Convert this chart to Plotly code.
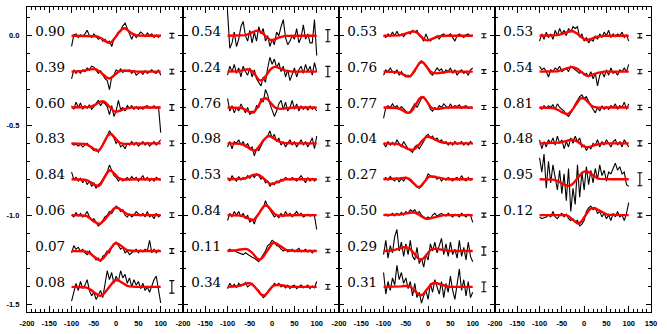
import plotly.graph_objects as go

# ---------------- data (profile values in hundredths of the y unit) ----------------
X = list(range(-100, 101, 5))
OFFSETS = [0.0, -0.2, -0.4, -0.6, -0.8, -1.0, -1.2, -1.4]
UNIT = 0.01
ERR_X = 125
LABEL_X = -148

LABELS_P1 = ["0.90", "0.39", "0.60", "0.83", "0.84", "0.06", "0.07", "0.08"]
LABELS_P2 = ["0.54", "0.24", "0.76", "0.98", "0.53", "0.84", "0.11", "0.34"]
LABELS_P3 = ["0.53", "0.76", "0.77", "0.04", "0.27", "0.50", "0.29", "0.31"]
LABELS_P4 = ["0.53", "0.54", "0.81", "0.48", "0.95", "0.12"]

ERR_P1 = [1.3, 1.3, 1.6, 1.3, 1.5, 1.3, 1.3, 3.5]
ERR_P2 = [3.4, 2.9, 1.7, 1.5, 1.1, 1.2, 1.0, 1.3]
ERR_P3 = [1.1, 1.1, 1.1, 1.2, 1.1, 1.1, 2.3, 2.7]
ERR_P4 = [1.2, 1.2, 1.2, 1.4, 3.6, 1.1]

OBS_P1 = [
    [-6,0.5,1,-1,0.5,-0.5,1,3,0,-1,1,-0.5,-2,-1,-3,-2,-4,-3,-6,-2,0,2,3,5.5,7,4,1,-2,1,-1,0.5,2,1,-0.5,1.5,0,1,-1,0.5,-1,0.5],
    [-4,1,-1,0.5,-1,1,0,2,1,3,2.5,1,-1,0.5,-2,-4,-5,-10,-3,-2,1,0,1.5,-0.5,0.5,0,1,-1,0.5,-2,-1,0,-1.5,0.5,-1,0,1,-0.5,-1,1,-2],
    [1,-1,3,0,2.5,-1,1,-0.5,1.5,-1,0.5,2,4,1,3,2,0.5,-4,1,-5,-2,4,-1,0,-2,1,-0.5,1,-1,0.5,-1,0,-1,0.5,1,-0.5,0,1,-0.5,0.5,-14],
    [0,-1,-0.5,-1.5,-0.5,-2,-1,0,-1.5,-2.5,-4,-3,-5,-3,-1,1,4,7,5,3,0,1.5,-2,-1,-3,0,-1,1,-1,0.5,-1.5,0,1,-1,0.5,-1.5,0,1,-1,0.5,2],
    [4,0,1,-1,0.5,-2,0,-3,-1,-4,-2,-5,-3,-2,0,2,4,8,5,2,1,-1,0.5,-1,0,1,-0.5,1.5,0,1,-1,0.5,2,-0.5,1,-1,0.5,-1,1,0,-0.5],
    [0,-1,1.5,-0.5,1,-1,0,2,-1,-3,-2,-4,-6,-5,-3,-1,0,2,1,3,5,4,2,3,0,-1,0.5,-1,0,2,1,-0.5,1,-1,2,-1,0,-2,1,-1,0],
    [-1,3,1,2,0,1,-1,-2,0,-2,-3,-5,-4,-6,-3,-2,0,-1,2,4,5,3,1,2,-1,0,-2,-1,0,1,-1,0.5,-0.5,1,0,6,-1,1,-1,0.5,-0.5],
    [-8,-3,2,-2,3,-1,1,4,-2,-5,-3,-7,-4,-2,-6,3,9,4,8,2,6,3,9,5,7,2,5,0,4,1,3,-1,2,-2,0,-3,1,4,6,-2,-9],
]
FIT_P1 = [
    [0,0,0,0,0,0,0,0,0,0,-0.1,-0.3,-0.6,-1.2,-2.0,-3.0,-3.7,-4.0,-3.5,-2.2,-0.4,1.5,3.0,4.0,4.1,3.4,2.3,1.3,0.6,0.2,0.1,0,0,0,0,0,0,0,0,0,0],
    [0,0,0,0.1,0.2,0.4,0.7,1.0,1.3,1.5,1.5,1.2,0.6,-0.3,-1.4,-2.6,-3.5,-3.8,-3.3,-2.2,-1.0,-0.1,0.4,0.6,0.6,0.5,0.3,0.2,0.1,0,0,0,0,0,0,0,0,0,0,0,0],
    [0,0,0,0,0,0,0,0.1,0.3,0.6,1.1,1.8,2.6,3.3,3.5,3.0,1.8,0.3,-1.1,-2.1,-2.4,-2.2,-1.7,-1.1,-0.7,-0.4,-0.2,-0.1,0,0,0,0,0,0,0,0,0,0,0,0,0],
    [0,0,0,0,0,-0.1,-0.3,-0.7,-1.3,-2.2,-3.2,-4.0,-4.1,-3.0,-0.8,1.8,4.0,5.2,5.0,3.8,2.2,0.9,0.1,-0.3,-0.4,-0.3,-0.2,-0.1,0,0,0,0,0,0,0,0,0,0,0,0,0],
    [0,0,0,0,0,-0.1,-0.3,-0.6,-1.2,-2.0,-3.0,-3.6,-3.8,-2.9,-0.9,1.5,3.7,4.9,4.6,3.4,1.9,0.8,0.1,-0.2,-0.3,-0.2,-0.1,-0.1,0,0,0,0,0,0,0,0,0,0,0,0,0],
    [0,0,0,0,0,-0.1,-0.3,-0.7,-1.4,-2.4,-3.5,-4.4,-4.8,-4.7,-3.8,-2.4,-0.7,1.0,2.6,3.7,4.2,3.9,3.0,2.0,1.1,0.5,0.2,0.1,0,0,0,0,0,0,0,0,0,0,0,0,0],
    [0,0,0,0,0,-0.1,-0.2,-0.5,-1.1,-2.0,-3.1,-4.2,-4.9,-5.0,-4.3,-2.9,-1.1,0.8,2.5,3.8,4.3,4.0,3.1,2.0,1.1,0.5,0.2,0.1,0,0,0,0,0,0,0,0,0,0,0,0,0],
    [0,0,0,0,0,-0.1,-0.2,-0.5,-1.0,-1.9,-3.0,-4.0,-4.7,-4.9,-4.4,-3.1,-1.4,0.4,2.0,3.3,3.8,3.6,2.9,2.0,1.2,0.6,0.3,0.1,0,0,0,0,0,0,0,0,0,0,0,0,0],
]

OBS_P2 = [
    [13,-7,-4,2,-6,-2,5,8,0,-3,3,-4,2,-3,5,1,4,-3,0,-6,-2,-5,2,0,5,9,-1,-5,-3,0,-2,4,-4,-1,6,-2,1,-4,-4,9,-11],
    [-2,3,0,4,-1,2,-3,3,0,-2,2,-3,1,-4,-6,-8,-3,-6,2,8,4,7,2,5,0,3,-3,1,-5,-2,2,-3,1,3,-1,4,0,3,-2,5,0],
    [5,-2,1,-3,0,-2,2,-1,-3,0,-4,-2,-3,1,0,5,3,10,7,2,-1,-5,-2,2,4,-1,3,-2,0,4,-1,2,-2,1,-1,0.5,-1.5,1,-1,0,-2],
    [-2,1,-3,1,0,2,-1,1,-2,0,-3,-2,-7,-3,-4,-1,1,3,4,7,3,5,1,3,-1,1,-2,0,2,-1,1,-2,0,2,-1,1,-2,1,3,-3,4],
    [1,-1,2,0,-1,1.5,-0.5,1,0,2,0.5,2.5,1,3,2,0,1,-2,-1,-4,-2,-3,-1,-2,0,-1,1,0,-0.5,1,0,-1,0.5,2,0,-2,1,-1,0.5,-1,0],
    [-3,1,-1,2,0,2,-1,1,-2,0,-4,-2,-5,-1,1,3,4,8,5,3,1,-1,0,-1.5,1,-1,2,0,1,-1,0.5,2,0,1,-1,0,0.5,-0.5,0,-0.5,-8],
    [0,1,0,0.5,-0.5,-1,-1.5,-2,-1,-2,-3,-3.5,-4,-5,-6,-4,-2,0,3,4,6,5,3,2.5,1,0,1,-0.5,0,1,-0.5,0.5,1.5,-0.5,0,1,-0.5,0.5,-1,0.5,0],
    [-1,2,0,1.5,-0.5,2,0.5,1,2.5,0,1,2,0,-1,-2,-4,-6,-5,-3,-1,0,2,1,2,0,1,-0.5,1,-1,0.5,1,-1,0,1,-0.5,0,1,-1,0.5,-0.5,3],
]
FIT_P2 = [
    [0,0,0,0,0,0,0,0.1,0.3,0.7,1.3,2.0,2.5,2.8,2.7,2.1,1.1,-0.2,-1.4,-2.2,-2.5,-2.2,-1.6,-1.0,-0.6,-0.3,-0.1,-0.1,0,0,0,0,0,0,0,0,0,0,0,0,0],
    [0,0,0,0,0,0.2,0.5,0.9,1.2,1.3,1.0,0.2,-1.2,-3.0,-4.6,-5.0,-4.3,-2.8,-0.9,0.8,2.0,2.6,2.6,2.2,1.6,1.0,0.5,0.2,0.1,0,0,0,0,0,0,0,0,0,0,0,0],
    [0,0,0,0,0,-0.1,-0.3,-0.6,-1.1,-1.8,-2.6,-2.9,-2.4,-0.9,1.2,3.3,4.8,5.3,4.6,3.1,1.4,0.2,-0.5,-0.8,-0.8,-0.6,-0.4,-0.2,-0.1,0,0,0,0,0,0,0,0,0,0,0,0],
    [0,0,0,0,0,-0.1,-0.3,-0.7,-1.3,-2.1,-3.1,-3.8,-4.1,-3.6,-2.2,-0.3,1.6,3.1,4.0,4.1,3.5,2.6,1.7,1.0,0.5,0.2,0.1,0,0,0,0,0,0,0,0,0,0,0,0,0,0],
    [0,0,0,0,0,0,0.1,0.3,0.6,1.1,1.7,2.2,2.5,2.6,2.4,1.7,0.6,-0.7,-1.9,-2.6,-2.7,-2.2,-1.6,-1.0,-0.6,-0.3,-0.1,0,0,0,0,0,0,0,0,0,0,0,0,0,0],
    [0,0,0,0,0,-0.1,-0.3,-0.6,-1.1,-1.8,-2.5,-2.8,-2.5,-1.2,0.7,2.8,4.6,5.4,5.0,3.6,1.9,0.7,0.0,-0.3,-0.3,-0.2,-0.1,0,0,0,0,0,0,0,0,0,0,0,0,0,0],
    [0,0,0.1,0.2,0.4,0.7,1.0,1.2,1.2,0.9,0.2,-0.9,-2.4,-3.9,-4.7,-4.5,-3.2,-1.2,1.0,2.9,4.2,4.6,4.2,3.3,2.3,1.4,0.8,0.4,0.2,0.1,0,0,0,0,0,0,0,0,0,0,0],
    [0,0,0,0.1,0.3,0.6,1.0,1.5,1.9,2.1,2.0,1.4,0.3,-1.2,-2.9,-4.2,-4.8,-4.4,-3.0,-1.3,0.1,0.9,1.2,1.1,0.9,0.6,0.4,0.2,0.1,0,0,0,0,0,0,0,0,0,0,0,0],
]

OBS_P3 = [
    [0,-1,1,-0.5,2,0,2.5,0,1,-0.5,1,2,1,3,2,3,0,-1,-3,1,-2,-3,-1.5,-1,0,-2,0.5,1,-0.5,0,1,-1,-3,0,1,0,-1,0.5,1,-0.5,0.5],
    [-2,1,0,2,0,-1,1,-2,0,-2,-3,-2,-3,-1,0,3,5,6,5,3,1,-1,-2,0,2,0.5,1.5,-1,1,0,2,-1,1,-2,0,1,-1,0,-2,1,2],
    [-6,0,1,0,2,0,1,-1,0.5,-1,-2,-3,-2,0,2,0,3,5,6,4,2,-1,-2,0,-1,1,0,2,1,-0.5,2,0,1,0.5,1.5,-0.5,0.5,1,-0.5,0,-0.5],
    [0,-2,1,-1,0.5,-1,2,0,-2,1,-1,-3,-4,-5,-2,-1,-3,-1,1,4,5,3,4,2,3,1,2,0,1,-1,0.5,-1,1,-0.5,0,1,-1,0.5,-1,1,-0.5],
    [0,1,-0.5,1.5,0,-1,1,-1.5,0.5,-1,1,0,-1,-2,-3,-4,-5,-4,-2,0,3,2,1,1.5,0,1,-1,0.5,-0.5,1,0,-1,0.5,1,-0.5,2,0,-1,1,-0.5,0.5],
    [0,0.5,-0.5,0,1,-0.5,1,0,1.5,0,2,1,3,2,3,1,2,0,-1,-2,-1,-2,0,1,-0.5,0.5,1,0,-0.5,1,0,-1,0.5,0,-1,1,0,-1,0.5,0,-4],
    [-2,6,-4,3,-1,8,12,0,5,-3,4,-2,6,-3,-5,2,-7,-4,-9,-2,-5,4,0,5,-1,3,7,-2,4,-3,5,-2,1,-4,6,-3,2,-5,5,-3,-6],
    [8,-4,3,-2,5,1,12,4,8,2,5,-1,3,-5,2,-6,-3,-9,-5,-2,-7,2,-3,4,0,-4,3,-6,2,-3,6,-2,-7,3,10,-2,4,-5,3,-6,-3],
]
FIT_P3 = [
    [0,0,0,0,0,0,0.1,0.2,0.5,0.9,1.4,1.9,2.2,2.4,2.3,1.7,0.6,-0.7,-1.8,-2.5,-2.6,-2.2,-1.6,-1.0,-0.6,-0.3,-0.1,0,0,0,0,0,0,0,0,0,0,0,0,0,0],
    [0,0,0,0,0,-0.1,-0.3,-0.6,-1.1,-1.8,-2.5,-2.8,-2.5,-1.2,0.8,2.9,4.6,5.3,4.8,3.3,1.5,0.1,-0.7,-1.0,-1.0,-0.8,-0.5,-0.3,-0.1,0,0,0,0,0,0,0,0,0,0,0,0],
    [0,0,0,0,0,-0.1,-0.3,-0.6,-1.1,-1.9,-2.7,-3.0,-2.7,-1.4,0.6,2.8,4.8,5.8,5.6,4.2,2.2,0.5,-0.5,-0.9,-0.9,-0.7,-0.4,-0.2,-0.1,0,0,0,0,0,0,0,0,0,0,0,0],
    [0,0,0,0,0,-0.1,-0.3,-0.6,-1.1,-1.7,-2.5,-3.2,-3.6,-3.6,-3.1,-2.0,-0.6,1.0,2.5,3.5,3.8,3.5,2.9,2.2,1.5,1.0,0.6,0.3,0.1,0,0,0,0,0,0,0,0,0,0,0,0],
    [0,0,0,0,0,0.1,0.2,0.4,0.6,0.8,0.8,0.5,-0.3,-1.6,-3.0,-4.1,-4.3,-3.5,-1.9,-0.2,1.1,1.7,1.7,1.4,1.0,0.7,0.4,0.2,0.1,0,0,0,0,0,0,0,0,0,0,0,0],
    [0,0,0,0,0,0,0.1,0.2,0.4,0.7,1.0,1.3,1.5,1.6,1.4,0.9,0.2,-0.7,-1.5,-2.0,-2.1,-1.8,-1.3,-0.8,-0.5,-0.3,-0.1,0,0,0,0,0,0,0,0,0,0,0,0,0,0],
    [0,0,0,0.1,0.3,0.6,1.0,1.5,1.9,2.1,2.1,1.8,1.0,-0.2,-1.8,-3.4,-4.5,-4.8,-4.0,-2.5,-0.8,0.5,1.2,1.4,1.3,1.0,0.7,0.4,0.2,0.1,0,0,0,0,0,0,0,0,0,0,0],
    [0,0,0,0,0,0,0,0.1,0.3,0.5,0.6,0.5,0.1,-0.8,-2.1,-3.5,-4.4,-4.6,-3.8,-2.2,-0.4,1.0,1.9,2.2,2.0,1.6,1.1,0.6,0.3,0.1,0,0,0,0,0,0,0,0,0,0,0],
]

OBS_P4 = [
    [-3,1,-2,2,-1,1,-2,3,0,4,1,3,0,4,2,5,4,5,-1,1,-3,-1,-4,-2,-3,0,-2,1,-1,2,0,3,-1,1,-0.5,1,0,2,-1,0.5,-3],
    [3,1,2,0,-3,1,0,2,1,3,0,1,2,0,3,2,1,0,-1,0,-2,-1,-3,0,-4,-1,-8,-2,0,-3,1,-2,2,-1,0,-2,1,0,2,0,4],
    [0,-1,1,-0.5,1,0,1.5,-1,2,0,-1,-2,-4,-5,-3,-1,2,4,6,7,5,6,3,1,-1,-3,0,-2,1,-1,0.5,-1,1,0,2,-1,1,0,3,-1,2],
    [2,-3,1,-2,2,0,3,-1,4,0,2,-3,1,-2,3,0,4,1,3,-2,-1,-4,-2,-3,0,-1,2,-2,1,-1,2,0,-2,1,2,-1,1,-2,2,0,-2],
    [12,4,14,-5,10,-2,8,2,-6,5,-8,3,-12,6,-18,-5,-14,8,-10,4,-6,7,-3,5,-2,6,0,8,2,5,-1,4,3,6,9,5,7,3,4,-3,-4],
    [-1,-2,-1.5,-1,0,-1,2,-1,-2,0,1,-1,0.5,-2,-3,-2,-4,-3,-6,-5,-3,2,4,5,3,4,1,2,-1,1,-2,0,-3,1,-1,2,-1,0,-3,1,7],
]
FIT_P4 = [
    [0,0,0,0,0,0,0,0.1,0.3,0.6,1.0,1.5,2.0,2.4,2.6,2.5,2.0,1.1,0.0,-1.1,-2.0,-2.4,-2.3,-1.9,-1.4,-0.9,-0.5,-0.3,-0.1,0,0,0,0,0,0,0,0,0,0,0,0],
    [0,0,0,0,0,0,0,0.1,0.2,0.5,0.9,1.4,1.9,2.3,2.5,2.5,2.2,1.5,0.5,-0.6,-1.6,-2.3,-2.5,-2.2,-1.7,-1.2,-0.7,-0.4,-0.2,0,0,0,0,0,0,0,0,0,0,0,0],
    [0,0,0,0,0,-0.1,-0.3,-0.6,-1.1,-1.8,-2.6,-3.3,-3.6,-3.4,-2.4,-0.8,1.3,3.3,4.7,5.3,5.0,3.9,2.5,1.3,0.5,0.1,-0.1,-0.1,0,0,0,0,0,0,0,0,0,0,0,0,0],
    [0,0,0,0,0,0,0,0.1,0.2,0.4,0.7,1.1,1.5,1.8,2.0,2.0,1.7,1.0,0.1,-0.9,-1.7,-2.1,-2.1,-1.8,-1.3,-0.9,-0.5,-0.3,-0.1,0,0,0,0,0,0,0,0,0,0,0,0],
    [0,0,0,0,0,-0.1,-0.2,-0.5,-0.9,-1.5,-2.3,-3.0,-3.5,-3.7,-3.4,-2.5,-1.1,0.6,2.2,3.5,4.3,4.5,4.0,3.0,2.0,1.1,0.5,0.2,0.1,0,0,0,0,0,0,0,0,0,0,0,0],
    [0,0,0,0,0,0,0,0.1,0.2,0.3,0.4,0.3,0.0,-0.6,-1.6,-2.9,-4.0,-4.6,-4.4,-3.2,-1.3,0.8,2.5,3.6,4.0,3.7,3.0,2.2,1.4,0.8,0.4,0.2,0.1,0,0,0,0,0,0,0,0],
]

PANELS = [
    (LABELS_P1, ERR_P1, OBS_P1, FIT_P1),
    (LABELS_P2, ERR_P2, OBS_P2, FIT_P2),
    (LABELS_P3, ERR_P3, OBS_P3, FIT_P3),
    (LABELS_P4, ERR_P4, OBS_P4, FIT_P4),
]

X_TICKS = [-200, -150, -100, -50, 0, 50, 100, 150]
Y_TICKS = [0.0, -0.5, -1.0, -1.5]
Y_TICKTEXT = ["0.0", "-0.5", "-1.0", "-1.5"]

# ---------------- figure ----------------
fig = go.Figure()

for p, (labels, errs, obs, fits) in enumerate(PANELS):
    ax = "" if p == 0 else str(p + 1)
    xa, ya = "x" + ax, "y" + ax
    n = len(labels)
    for k in range(n):
        fig.add_trace(go.Scatter(
            x=X, y=[OFFSETS[k] + v * UNIT for v in obs[k]], mode="lines",
            line=dict(color="black", width=1.1), xaxis=xa, yaxis=ya, hoverinfo="skip"))
    for k in range(n):
        fig.add_trace(go.Scatter(
            x=X, y=[OFFSETS[k] + v * UNIT for v in fits[k]], mode="lines",
            line=dict(color="#ff0000", width=2.4), xaxis=xa, yaxis=ya, hoverinfo="skip"))
    fig.add_trace(go.Scatter(
        x=[ERR_X] * n, y=OFFSETS[:n], mode="markers",
        marker=dict(size=1, color="rgba(0,0,0,0)"),
        error_y=dict(type="data", array=[e * UNIT for e in errs], symmetric=True,
                     width=2.5, thickness=1.1, color="black"),
        xaxis=xa, yaxis=ya, hoverinfo="skip"))
    fig.add_trace(go.Scatter(
        x=[LABEL_X] * n, y=[o + 0.018 for o in OFFSETS[:n]], mode="text",
        text=labels, textposition="middle center",
        textfont=dict(family="DejaVu Serif", size=13.5, color="black"),
        xaxis=xa, yaxis=ya, hoverinfo="skip"))

    ticktext = ["-200", "-150", "-100", "-50", "0", "50", "100", "150" if p == 3 else ""]
    fig.update_layout(**{
        "xaxis" + ax: dict(
            domain=[p / 4, (p + 1) / 4], range=[-200, 150], anchor=ya,
            showline=True, linecolor="black", linewidth=1.3, mirror="allticks",
            ticks="inside", ticklen=6, tickwidth=1, tickcolor="black",
            tickmode="array", tickvals=X_TICKS, ticktext=ticktext,
            tickfont=dict(family="Liberation Sans", size=7.5, color="black", weight="bold"),
            ticklabelstandoff=4,
            minor=dict(ticks="inside", ticklen=3, tickwidth=1, tickcolor="black",
                       tickmode="linear", tick0=0, dtick=10),
            showgrid=False, zeroline=False, fixedrange=True),
        "yaxis" + ax: dict(
            domain=[0, 1], range=[-1.54, 0.16], anchor=xa,
            showline=True, linecolor="black", linewidth=1.3, mirror="allticks",
            ticks="inside", ticklen=5, tickwidth=1, tickcolor="black",
            tickmode="array", tickvals=Y_TICKS, ticktext=Y_TICKTEXT,
            showticklabels=(p == 0),
            tickfont=dict(family="Liberation Sans", size=7.5, color="black", weight="bold"),
            ticklabelstandoff=5,
            minor=dict(ticks="inside", ticklen=3, tickwidth=1, tickcolor="black",
                       tickmode="linear", tick0=0, dtick=0.1),
            showgrid=False, zeroline=False, fixedrange=True),
    })

fig.update_layout(
    width=667, height=334, showlegend=False,
    margin=dict(l=26, r=16, t=6, b=16),
    paper_bgcolor="white", plot_bgcolor="white",
)

fig.write_html("out.html", config={"displayModeBar": False},
               post_script="document.body.style.margin='0px';")
